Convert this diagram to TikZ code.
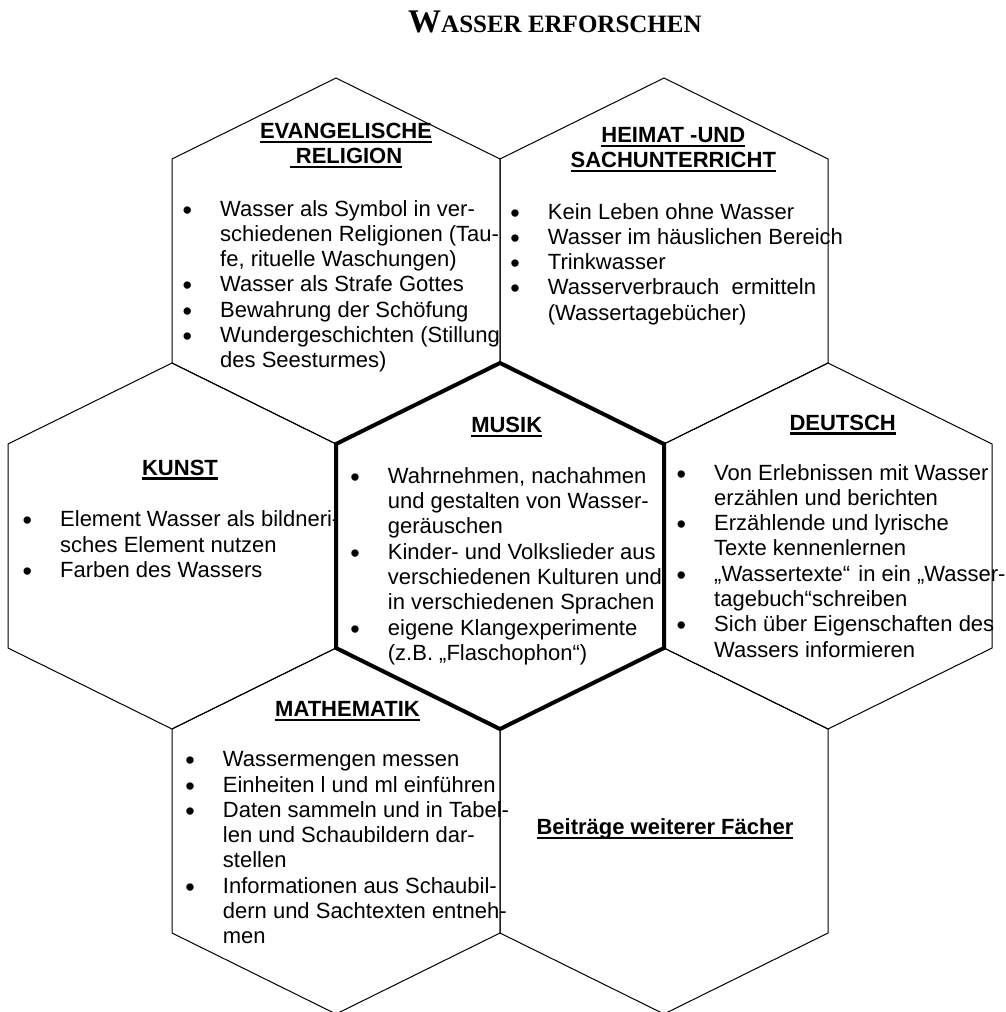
\documentclass[tikz,border=0pt]{standalone}
\usepackage{fontspec}
\setmainfont{Liberation Sans}
\newfontfamily\titlefont{Liberation Serif}
\newsavebox\hdbox
\newcommand{\ulhd}[1]{\sbox\hdbox{#1}\rlap{\rule[-4.5pt]{\wd\hdbox}{2.2pt}}\usebox\hdbox}
\newcommand{\bitem}[1]{\hbox{\makebox[37pt][l]{\hspace*{-0.5pt}\raisebox{-3pt}{\fontsize{27}{27}\selectfont\textbullet}}#1}}
\newcommand{\citem}[1]{\hbox{\hspace*{37pt}#1}}
\newcommand{\bullist}[1]{\vtop{\baselineskip=25.3pt #1}}
\tikzset{
  hexthin/.style={line width=1pt, line join=miter},
  hexbold/.style={line width=4pt, line join=miter},
  body/.style={font=\fontsize{22}{25.3}\selectfont, inner sep=0pt, anchor=base west},
  head/.style={font=\bfseries\fontsize{22}{25.3}\selectfont, inner sep=0pt, anchor=base},
}
\begin{document}
\begin{tikzpicture}[x=1pt,y=-1pt]
\useasboundingbox (0,0) rectangle (1006,1012);
% hexagons
\foreach \cx/\cy in {336/261,664/261,172/546,828/546,336/831,664/831}
  \draw[hexthin,shift={(\cx,\cy)}] (0,-183) -- (164,-102) -- (164,102) -- (0,183) -- (-164,102) -- (-164,-102) -- cycle;
\draw[hexbold,shift={(500,546)}] (0,-183) -- (164,-102) -- (164,102) -- (0,183) -- (-164,102) -- (-164,-102) -- cycle;
% title
\node[inner sep=0pt, anchor=base west] (title) at (408,32.3)
  {\titlefont\bfseries\fontsize{33}{36}\selectfont W\fontsize{25}{30}\selectfont ASSER ERFORSCHEN};
% Evangelische Religion
\node[head] (evA) at (346,138.3) {\ulhd{EVANGELISCHE}};
\node[head] (evB) at (346,163.3) {\ulhd{\ RELIGION}};
\node[body] (evL) at (183,216) {\bullist{%
  \bitem{Wasser als Symbol in ver-}
  \citem{schiedenen Religionen (Tau-}
  \citem{fe, rituelle Waschungen)}
  \bitem{Wasser als Strafe Gottes}
  \bitem{Bewahrung der Schöfung}
  \bitem{Wundergeschichten (Stillung}
  \citem{des Seesturmes)}}};
% Heimat- und Sachunterricht
\node[head] (heA) at (673.3,142.7) {\ulhd{HEIMAT -UND}};
\node[head] (heB) at (673.3,167.3) {\ulhd{SACHUNTERRICHT}};
\node[body] (heL) at (510.7,219) {\bullist{%
  \bitem{Kein Leben ohne Wasser}
  \bitem{Wasser im häuslichen Bereich}
  \bitem{Trinkwasser}
  \bitem{Wasserverbrauch\ \ ermitteln}
  \citem{(Wassertagebücher)}}};
% Kunst
\node[head] (ku) at (180,475) {\ulhd{KUNST}};
\node[body] (kuL) at (23,526.7) {\bullist{%
  \bitem{Element Wasser als bildneri-}
  \citem{sches Element nutzen}
  \bitem{Farben des Wassers}}};
% Musik
\node[head] (mu) at (506.7,432.7) {\ulhd{MUSIK}};
\node[body] (muL) at (350.7,483.3) {\bullist{%
  \bitem{Wahrnehmen, nachahmen}
  \citem{und gestalten von Wasser-}
  \citem{geräuschen}
  \bitem{Kinder- und Volkslieder aus}
  \citem{verschiedenen Kulturen und}
  \citem{in verschiedenen Sprachen}
  \bitem{eigene Klangexperimente}
  \citem{(z.B. „Flaschophon“)}}};
% Deutsch
\node[body] (deL) at (677,480) {\bullist{%
  \bitem{Von Erlebnissen mit Wasser}
  \citem{erzählen und berichten}
  \bitem{Erzählende und lyrische}
  \citem{Texte kennenlernen}
  \bitem{„Wassertexte“\ \hspace{2pt}in ein „Wasser-}
  \citem{tagebuch“schreiben}
  \bitem{Sich über Eigenschaften des}
  \citem{Wassers informieren}}};
\node[head] (de) at (842.7,430) {\ulhd{DEUTSCH}};
% Mathematik
\node[head] (ma) at (347.5,716.7) {\ulhd{MATHEMATIK}};
\node[body] (maL) at (185.7,766.7) {\bullist{%
  \bitem{Wassermengen messen}
  \bitem{Einheiten l und ml einführen}
  \bitem{Daten sammeln und in Tabel-}
  \citem{len und Schaubildern dar-}
  \citem{stellen}
  \bitem{Informationen aus Schaubil-}
  \citem{dern und Sachtexten entneh-}
  \citem{men}}};
% Beitraege weiterer Faecher
\node[head] (bw) at (665,834.3) {\ulhd{Beiträge weiterer Fächer}};
\end{tikzpicture}
\end{document}
